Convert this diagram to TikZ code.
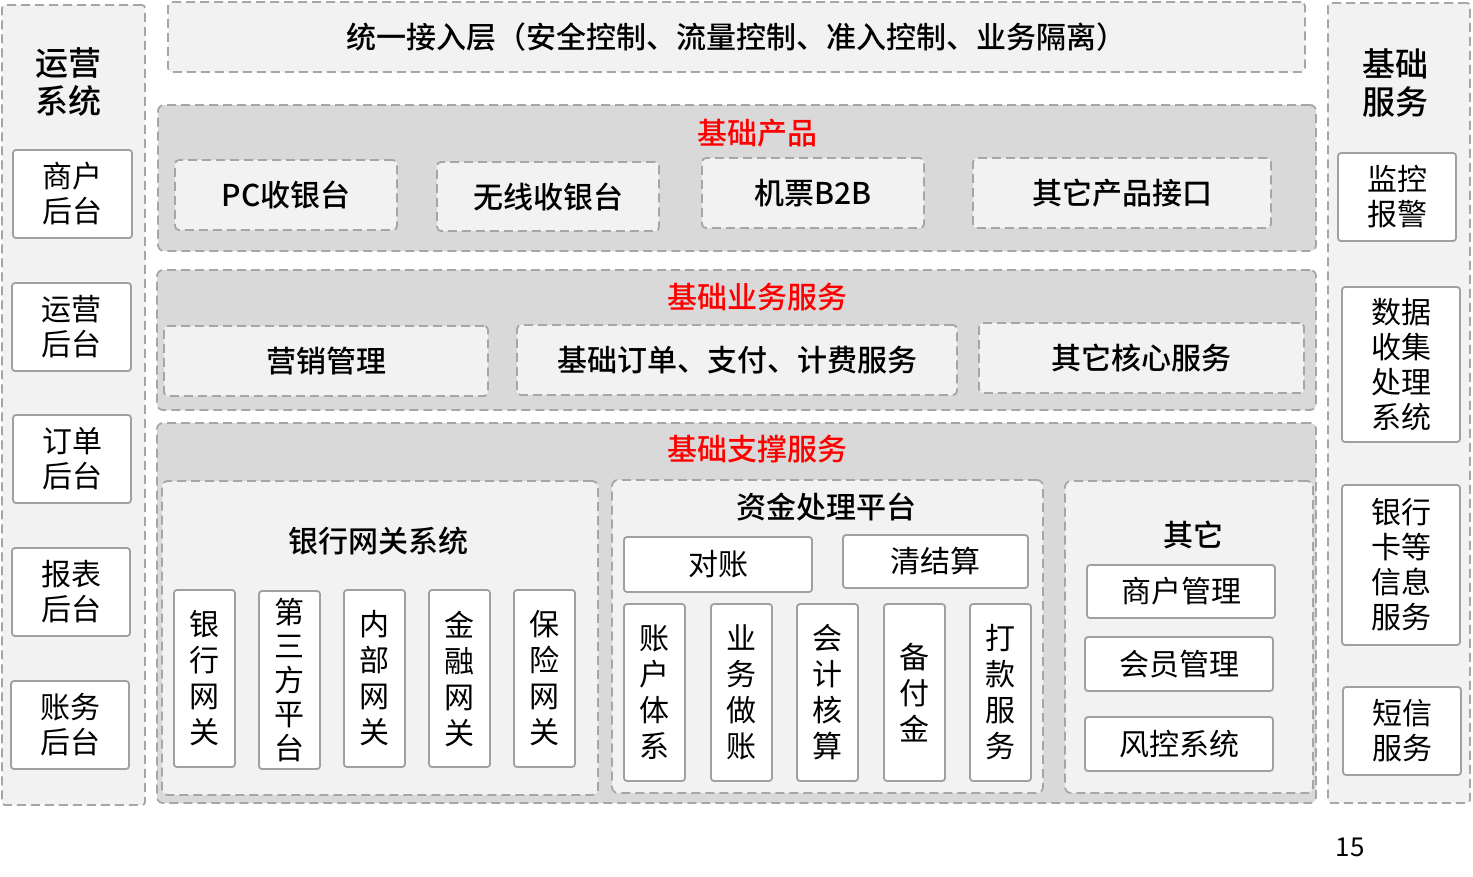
\documentclass[tikz,border=0pt]{standalone}
\usepackage{fontspec}
\setmainfont{Noto Sans CJK SC}[BoldFont={* Medium}]
\definecolor{paleGray}{HTML}{F2F2F2}
\definecolor{panelGray}{HTML}{D9D9D9}
\definecolor{lineGray}{HTML}{A6A6A6}
\definecolor{boxGray}{HTML}{A0A0A0}
\definecolor{titleRed}{HTML}{FF0000}
\begin{document}
\begin{tikzpicture}[x=1pt,y=-1pt,
  dashline/.style={draw=lineGray,line width=1.8pt,dash pattern=on 9pt off 5pt},
  colbox/.style={dashline,fill=paleGray,rounded corners=3pt,inner sep=0},
  layer/.style={dashline,fill=panelGray,rounded corners=6pt,inner sep=0},
  inbox/.style={dashline,fill=paleGray,rounded corners=4pt,inner sep=0,align=center,
    font=\fontsize{30}{35}\selectfont\bfseries},
  cell/.style={draw=boxGray,line width=1.8pt,fill=white,rounded corners=3pt,inner sep=0,
    align=center,font=\fontsize{30}{35}\selectfont},
  vcell/.style={cell,minimum width=61pt,minimum height=177pt,font=\fontsize{30}{36}\selectfont},
  sidetitle/.style={align=center,inner sep=0,font=\fontsize{33}{38}\selectfont\bfseries},
  redtitle/.style={inner sep=0,text=titleRed,font=\fontsize{30}{35}\selectfont\bfseries},
  subtitle/.style={inner sep=0,font=\fontsize{30}{35}\selectfont\bfseries}]
\useasboundingbox[fill=white] (0,0) rectangle (1473,876);
\node[colbox,minimum width=143pt,minimum height=800pt] (ops) at (73.5,405) {};
\node[sidetitle] (opsT) at (68,82) {运营\\系统};
\node[cell,minimum width=119pt,minimum height=88pt] (merchantBk) at (72.5,194) {商户\\后台};
\node[cell,minimum width=119pt,minimum height=88pt] (opsBk) at (71.5,327) {运营\\后台};
\node[cell,minimum width=118pt,minimum height=88pt] (orderBk) at (72,459) {订单\\后台};
\node[cell,minimum width=118pt,minimum height=88pt] (reportBk) at (71,592) {报表\\后台};
\node[cell,minimum width=118pt,minimum height=88pt] (acctBk) at (70,725) {账务\\后台};
\node[colbox,minimum width=142pt,minimum height=800pt] (base) at (1399,403) {};
\node[sidetitle] (baseT) at (1395,83) {基础\\服务};
\node[cell,minimum width=118pt,minimum height=88pt] (monitor) at (1397,197) {监控\\报警};
\node[cell,minimum width=118pt,minimum height=155pt] (datasys) at (1401,364.5) {数据\\收集\\处理\\系统};
\node[cell,minimum width=118pt,minimum height=160pt] (cardinfo) at (1401,565) {银行\\卡等\\信息\\服务};
\node[cell,minimum width=118pt,minimum height=88pt] (sms) at (1402,731) {短信\\服务};
\node[inbox,minimum width=1137pt,minimum height=70pt] (access) at (736.5,37) {统一接入层（安全控制、流量控制、准入控制、业务隔离）};
\node[layer,minimum width=1158pt,minimum height=146pt] (prod) at (737,178) {};
\node[redtitle] (prodT) at (757,133) {基础产品};
\node[inbox,minimum width=222pt,minimum height=70pt] (pc) at (286,195) {PC收银台};
\node[inbox,minimum width=222pt,minimum height=69pt] (wireless) at (548,196.5) {无线收银台};
\node[inbox,minimum width=222pt,minimum height=70pt] (ticket) at (813,193) {机票B2B};
\node[inbox,minimum width=298pt,minimum height=70pt] (otherProd) at (1122,193) {其它产品接口};
\node[layer,minimum width=1159pt,minimum height=140pt] (biz) at (736.5,340) {};
\node[redtitle] (bizT) at (757,297) {基础业务服务};
\node[inbox,minimum width=324pt,minimum height=70pt] (market) at (326,361) {营销管理};
\node[inbox,minimum width=440pt,minimum height=70pt] (order) at (737,360) {基础订单、支付、计费服务};
\node[inbox,minimum width=325pt,minimum height=70pt] (core) at (1141.5,358) {其它核心服务};
\node[layer,minimum width=1159pt,minimum height=380pt] (support) at (736.5,613) {};
\node[redtitle] (supportT) at (757,449) {基础支撑服务};
\node[colbox,rounded corners=6pt,minimum width=436pt,minimum height=314pt] (bankgw) at (380,638) {};
\node[subtitle] (bankgwT) at (378,541) {银行网关系统};
\node[vcell] (gwBank) at (204.5,678.5) {银\\行\\网\\关};
\node[vcell,minimum height=178pt,font=\fontsize{30}{34}\selectfont] (gwThird) at (289.5,680) {第\\三\\方\\平\\台};
\node[vcell] (gwInner) at (374.5,678.5) {内\\部\\网\\关};
\node[vcell] (gwFin) at (459.5,678.5) {金\\融\\网\\关};
\node[vcell] (gwIns) at (544.5,678.5) {保\\险\\网\\关};
\node[colbox,rounded corners=6pt,minimum width=431pt,minimum height=313pt] (fund) at (827.5,636.5) {};
\node[subtitle] (fundT) at (826,507) {资金处理平台};
\node[cell,minimum width=188pt,minimum height=55pt] (recon) at (718,564.5) {对账};
\node[cell,minimum width=185pt,minimum height=53pt] (settle) at (935.5,561.5) {清结算};
\node[vcell] (account) at (654.5,692.5) {账\\户\\体\\系};
\node[vcell] (bookkeep) at (741.5,692.5) {业\\务\\做\\账};
\node[vcell] (accounting) at (827.5,692.5) {会\\计\\核\\算};
\node[vcell] (reserve) at (914.5,692.5) {备\\付\\金};
\node[vcell] (payout) at (1000.5,692.5) {打\\款\\服\\务};
\node[colbox,rounded corners=6pt,minimum width=248pt,minimum height=312pt] (misc) at (1189,637) {};
\node[subtitle] (miscT) at (1193,535) {其它};
\node[cell,minimum width=188pt,minimum height=53pt] (merchantMg) at (1181,591.5) {商户管理};
\node[cell,minimum width=188pt,minimum height=54pt] (memberMg) at (1179,664) {会员管理};
\node[cell,minimum width=188pt,minimum height=54pt] (risk) at (1179,744) {风控系统};
\node[inner sep=0,font=\fontsize{26}{30}\selectfont] (pageNo) at (1350,847) {15};
\end{tikzpicture}
\end{document}
